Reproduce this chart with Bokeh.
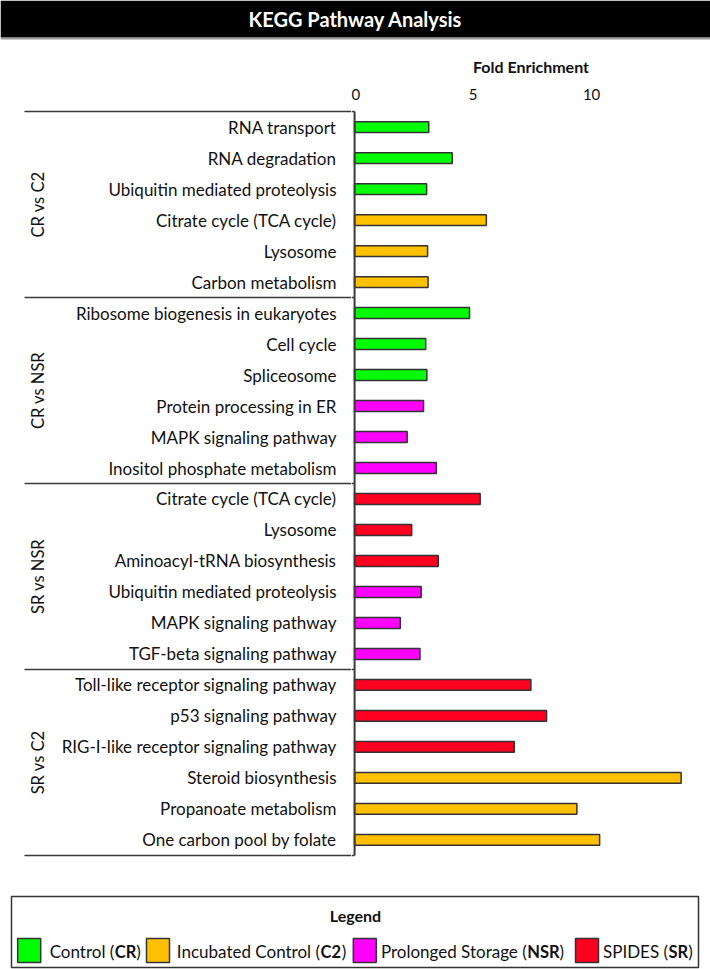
import math
from bokeh.plotting import figure
from bokeh.models import Range1d, FixedTicker, ColumnDataSource
from bokeh.layouts import column, row
from bokeh.embed import file_html
from bokeh.resources import INLINE
from bokeh.core.properties import value

FONT = "Lato"
TXT = "#111111"
EDGE = "#3a3a3a"

# ---------------- data ----------------
group_names = ["CR vs C2", "CR vs NSR", "SR vs NSR", "SR vs C2"]
group_sizes = [6, 6, 6, 6]

pathways = [
    "RNA transport", "RNA degradation", "Ubiquitin mediated proteolysis",
    "Citrate cycle (TCA cycle)", "Lysosome", "Carbon metabolism",
    "Ribosome biogenesis in eukaryotes", "Cell cycle", "Spliceosome",
    "Protein processing in ER", "MAPK signaling pathway", "Inositol phosphate metabolism",
    "Citrate cycle (TCA cycle)", "Lysosome", "Aminoacyl-tRNA biosynthesis",
    "Ubiquitin mediated proteolysis", "MAPK signaling pathway", "TGF-beta signaling pathway",
    "Toll-like receptor signaling pathway", "p53 signaling pathway",
    "RIG-I-like receptor signaling pathway", "Steroid biosynthesis",
    "Propanoate metabolism", "One carbon pool by folate",
]
fold = [
    3.13, 4.12, 3.04, 5.56, 3.08, 3.10,
    4.85, 3.00, 3.05, 2.91, 2.22, 3.45,
    5.30, 2.41, 3.53, 2.81, 1.93, 2.76,
    7.44, 8.10, 6.74, 13.78, 9.38, 10.34,
]
condition = [
    "CR", "CR", "CR", "C2", "C2", "C2",
    "CR", "CR", "CR", "NSR", "NSR", "NSR",
    "SR", "SR", "SR", "NSR", "NSR", "NSR",
    "SR", "SR", "SR", "C2", "C2", "C2",
]
cond_codes = ["CR", "C2", "NSR", "SR"]
cond_names = ["Control", "Incubated Control", "Prolonged Storage", "SPIDES"]
cond_colors = ["#00FF00", "#FFC000", "#FF00FF", "#FF0020"]
x_ticks = [0, 5, 10]

# derived
color_of = dict(zip(cond_codes, cond_colors))
ys = list(range(len(pathways)))
bar_colors = [color_of[c] for c in condition]
bounds = [-0.5]
centers = []
acc = 0
for n in group_sizes:
    centers.append(acc + (n - 1) / 2)
    acc += n
    bounds.append(acc - 0.5)

src = ColumnDataSource(dict(y=ys, fold=fold, color=bar_colors, name=pathways))

W = 710
LEFT_W = 351
RIGHT_W = W - LEFT_W

# ---------------- title band ----------------
tfig = figure(width=W, height=40, x_range=Range1d(0, W), y_range=Range1d(40, 0),
              output_backend="svg", toolbar_location=None,
              x_axis_location=None, y_axis_location=None,
              min_border=0, min_border_left=0, min_border_right=0,
              min_border_top=0, min_border_bottom=0)
tfig.grid.visible = False
tfig.outline_line_color = None
tfig.quad(left=0, right=W, top=0, bottom=37, fill_color="black", line_color=None)
tfig.segment(x0=0, x1=W, y0=38.3, y1=38.3, line_color="#9a9a9a", line_width=1.5)
tfig.text(x=355, y=18.5, text=["KEGG Pathway Analysis"], text_align="center",
          text_baseline="middle", text_color="white", text_font=value(FONT),
          text_font_size="20px", text_font_style="bold")

# ---------------- main panels ----------------
yr = Range1d(start=23.6, end=-0.6)
common = dict(height=820, y_range=yr, output_backend="svg", toolbar_location=None,
              min_border_left=0, min_border_right=0, min_border_top=68, min_border_bottom=2)

left = figure(width=LEFT_W, x_range=Range1d(0, LEFT_W), x_axis_location=None,
              y_axis_location=None, **common)
left.grid.visible = False
left.outline_line_color = None
left.text(x=336, y="y", text="name", source=src, text_align="right",
          text_baseline="middle", text_font=value(FONT), text_font_size="17px",
          text_color=TXT)
left.text(x=37, y=centers, text=group_names, angle=math.pi / 2, text_align="center",
          text_baseline="middle", text_font=value(FONT), text_font_size="16.5px",
          text_color=TXT)
left.segment(x0=24, x1=LEFT_W, y0=bounds, y1=bounds, line_color=EDGE, line_width=1.5)

PX_PER_UNIT = 23.7
x0 = -0.13
right = figure(width=RIGHT_W, x_range=Range1d(x0, x0 + RIGHT_W / PX_PER_UNIT),
               x_axis_location="above", y_axis_location=None, **common)
right.grid.visible = False
right.outline_line_color = None
right.segment(x0=x0, x1=0, y0=bounds, y1=bounds, line_color=EDGE, line_width=1.5)
right.hbar(y="y", left=0, right="fold", height=0.35, fill_color="color",
           line_color="#333333", line_width=1.5, source=src)
right.segment(x0=0, x1=0, y0=bounds[0], y1=bounds[-1], line_color=EDGE, line_width=2)

ax = right.xaxis[0]
ax.ticker = FixedTicker(ticks=x_ticks)
ax.axis_label = "Fold Enrichment"
ax.axis_label_text_font = FONT
ax.axis_label_text_font_style = "bold"
ax.axis_label_text_font_size = "16px"
ax.axis_label_text_color = TXT
ax.axis_label_standoff = 10
ax.major_label_text_font = FONT
ax.major_label_text_font_size = "15px"
ax.major_label_text_color = TXT
ax.major_label_standoff = 9
ax.axis_line_color = None
ax.major_tick_line_color = None
ax.minor_tick_line_color = None
ax.major_tick_out = 0
ax.major_tick_in = 0

# ---------------- legend panel ----------------
LH = 969 - 40 - 820
lfig = figure(width=W, height=LH, x_range=Range1d(0, W), y_range=Range1d(LH, 0),
              output_backend="svg", toolbar_location=None,
              x_axis_location=None, y_axis_location=None,
              min_border=0, min_border_left=0, min_border_right=0,
              min_border_top=0, min_border_bottom=0)
lfig.grid.visible = False
lfig.outline_line_color = None
lfig.quad(left=11, right=698, top=36, bottom=107, fill_color=None,
          line_color="#333333", line_width=1.5)
lfig.text(x=355, y=55, text=["Legend"], text_align="center", text_baseline="middle",
          text_font=value(FONT), text_font_size="16px", text_font_style="bold",
          text_color=TXT)
sq_x = [28.7, 157.5, 364.3, 586.5]
code_x = [114.3, 320.0, 526.7, 668.0]
close_x = [135.8, 341.2, 559.0, 687.8]
ly = 91
lfig.rect(x=sq_x, y=90, width=23, height=24, fill_color=cond_colors,
          line_color="#333333", line_width=1.5)
lfig.text(x=[c - 0.5 for c in code_x], y=ly, text=[n + " (" for n in cond_names],
          text_align="right", text_baseline="middle", text_font=value(FONT),
          text_font_size="17px", text_color=TXT)
lfig.text(x=code_x, y=ly, text=cond_codes, text_align="left",
          text_baseline="middle", text_font=value(FONT), text_font_size="16.5px",
          text_font_style="bold", text_color=TXT)
lfig.text(x=close_x, y=ly, text=[")"] * 4, text_align="left",
          text_baseline="middle", text_font=value(FONT), text_font_size="17px",
          text_color=TXT)

layout = column(tfig, row(left, right), lfig)
open("out.html", "w").write(file_html(layout, INLINE))
